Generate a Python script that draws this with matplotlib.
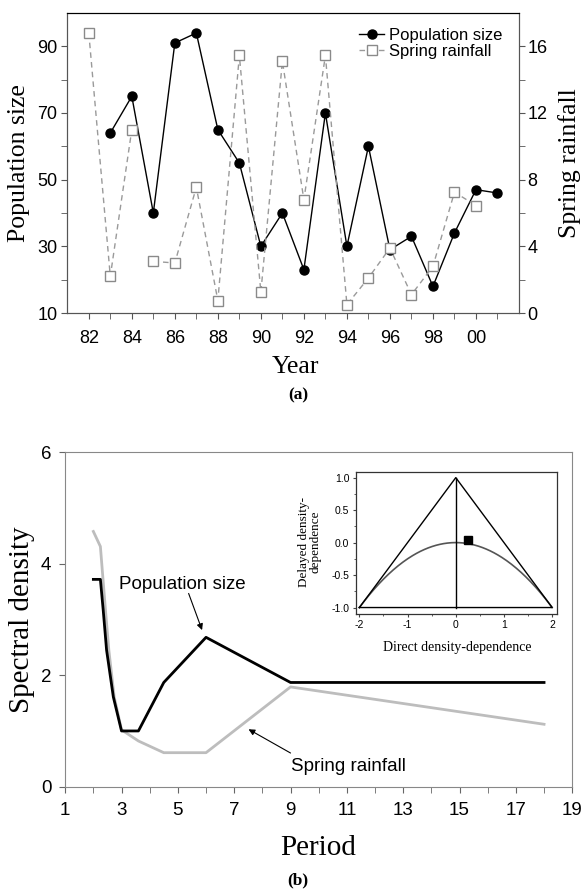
import numpy as np
import matplotlib
matplotlib.use("Agg")
import matplotlib.pyplot as plt
import matplotlib.ticker as ticker

# Panel (a) data
pop_years = [83, 84, 85, 86, 87, 88, 89, 90, 91, 92, 93, 94, 95, 96, 97, 98, 99, 100, 101]
pop_size = [64, 75, 40, 91, 94, 65, 55, 30, 40, 23, 70, 30, 60, 29, 33, 18, 34, 47, 46]
rain_years = [82, 83, 84, 85, 86, 87, 88, 89, 90, 91, 92, 93, 94, 95, 96, 97, 98, 99, 100]
rain = [16.8, 2.2, 11.0, 3.1, 3.0, 7.55, 0.75, 15.45, 1.25, 15.1, 6.8, 15.45, 0.5,
        2.1, 3.9, 1.1, 2.8, 7.25, 6.45]
rain_break = 3  # no dashed link between 84 and 85
year_ticks = [82, 84, 86, 88, 90, 92, 94, 96, 98, 100]
year_labels = ["82", "84", "86", "88", "90", "92", "94", "96", "98", "00"]

# Panel (b) data
period_pop = [2.0, 2.25, 2.35, 2.47, 2.71, 3.0, 3.6, 4.5, 6.0, 9.0, 18.0]
spec_pop = [3.72, 3.72, 3.17, 2.45, 1.61, 1.0, 1.0, 1.87, 2.68, 1.87, 1.87]
period_rain = [2.0, 2.25, 2.43, 2.55, 2.74, 3.0, 3.6, 4.5, 6.0, 9.0, 18.0]
spec_rain = [4.58, 4.31, 3.17, 2.45, 1.61, 1.02, 0.82, 0.61, 0.61, 1.79, 1.12]

# Inset data
tri_x = [-2, 0, 2, -2]
tri_y = [-1, 1, -1, -1]
est_direct = [0.25]
est_delayed = [0.035]

SERIF = "Liberation Serif"
SANS = "Liberation Sans"
plt.rcParams["font.family"] = SANS
plt.rcParams["axes.unicode_minus"] = False

fig = plt.figure(figsize=(5.83, 8.89), dpi=100)

### Panel (a)
ax1 = fig.add_axes([0.1154, 0.6479, 0.7748, 0.3375])
ax2 = ax1.twinx()

ax1.plot(pop_years, pop_size, color="black", lw=1.0, marker="o", ms=6.5,
         label="Population size", zorder=3)
ax2.plot(rain_years[:rain_break], rain[:rain_break], color="#9a9a9a", lw=1.0,
         ls=(0, (4, 3)), marker="s", ms=7, mfc="white", mec="#8a8a8a", mew=1.0,
         label="Spring rainfall")
ax2.plot(rain_years[rain_break:], rain[rain_break:], color="#9a9a9a", lw=1.0,
         ls=(0, (4, 3)), marker="s", ms=7, mfc="white", mec="#8a8a8a", mew=1.0)

ax1.set_xlim(81, 102)
ax1.set_ylim(10, 100)
ax2.set_ylim(0, 18)
ax1.set_xticks(year_ticks)
ax1.set_xticklabels(year_labels)
ax1.xaxis.set_minor_locator(ticker.FixedLocator(range(83, 102, 2)))
ax1.set_yticks([10, 30, 50, 70, 90])
ax1.yaxis.set_minor_locator(ticker.FixedLocator(range(20, 100, 20)))
ax2.set_yticks([0, 4, 8, 12, 16])
ax2.yaxis.set_minor_locator(ticker.FixedLocator([2, 6, 10, 14]))

for a in (ax1, ax2):
    for s in a.spines.values():
        s.set_color("#555555")
    a.spines["top"].set_color("black")
    a.tick_params(which="both", direction="out", length=4, color="#555555",
                  labelsize=13)
ax1.tick_params(axis="x", pad=8)
ax1.tick_params(axis="y", pad=3)
ax2.tick_params(axis="y", pad=2)

h1, l1 = ax1.get_legend_handles_labels()
h2, l2 = ax2.get_legend_handles_labels()
ax2.legend(h1 + h2, l1 + l2, loc="upper right", frameon=False, fontsize=12,
           handlelength=1.5, handletextpad=0.3, labelspacing=0.1,
           borderaxespad=0.3, bbox_to_anchor=(0.99, 0.99))

fig.text(0.0319, 0.8166, "Population size", rotation=90, ha="center",
         va="center", fontsize=18.5, family=SERIF)
fig.text(0.977, 0.8166, "Spring rainfall", rotation=90, ha="center",
         va="center", fontsize=18.5, family=SERIF)
fig.text(0.506, 0.5875, "Year", ha="center", va="center", fontsize=18.5,
         family=SERIF)
fig.text(0.511, 0.5557, "(a)", ha="center", va="center", fontsize=12.5,
         family=SERIF, weight="bold")

### Panel (b)
axb = fig.add_axes([0.1118, 0.1151, 0.8697, 0.3761])
axb.plot(period_rain, spec_rain, color="#bdbdbd", lw=2.0)
axb.plot(period_pop, spec_pop, color="black", lw=2.0)
axb.set_xlim(1, 19)
axb.set_ylim(0, 6)
axb.set_xticks(range(1, 20, 2))
axb.xaxis.set_minor_locator(ticker.FixedLocator(range(2, 19, 2)))
axb.set_yticks([0, 2, 4, 6])
for s in axb.spines.values():
    s.set_color("#888888")
axb.tick_params(which="both", direction="out", length=4, color="#666666",
                labelsize=13.5)
axb.tick_params(axis="x", pad=7)
axb.tick_params(axis="y", pad=6)

axb.annotate("Population size", xy=(5.86, 2.81), xytext=(2.91, 3.62),
             fontsize=13.5, va="center", ha="left",
             arrowprops=dict(arrowstyle="-|>", color="black", lw=0.8,
                             mutation_scale=9, shrinkA=0, shrinkB=0,
                             patchA=None, relpos=(0.55, 0.0)))
axb.annotate("Spring rainfall", xy=(7.51, 1.03), xytext=(9.0, 0.36),
             fontsize=13.5, va="center", ha="left",
             arrowprops=dict(arrowstyle="-|>", color="black", lw=0.8,
                             mutation_scale=9, shrinkA=0, shrinkB=0,
                             patchA=None, relpos=(0.0, 1.3)))

fig.text(0.0377, 0.3031, "Spectral density", rotation=90, ha="center",
         va="center", fontsize=21, family=SERIF)
fig.text(0.545, 0.0458, "Period", ha="center", va="center", fontsize=21,
         family=SERIF)
fig.text(0.511, 0.0101, "(b)", ha="center", va="center", fontsize=12.5,
         family=SERIF, weight="bold")

### Inset
axi = fig.add_axes([0.6098, 0.3093, 0.3456, 0.16])
xp = np.linspace(-2, 2, 200)
axi.plot(xp, -xp ** 2 / 4, color="#555555", lw=1.2)
axi.plot(tri_x, tri_y, color="black", lw=1.0)
axi.plot([0, 0], [-1, 1], color="black", lw=1.0)
axi.plot(est_direct, est_delayed, ls="none", marker="s", ms=5.5, color="black")
axi.set_xlim(-2.08, 2.1)
axi.set_ylim(-1.1, 1.09)
axi.set_xticks([-2, -1, 0, 1, 2])
axi.xaxis.set_minor_locator(ticker.MultipleLocator(0.5))
axi.set_yticks([-1.0, -0.5, 0.0, 0.5, 1.0])
axi.yaxis.set_major_formatter(ticker.FormatStrFormatter("%.1f"))
axi.yaxis.set_minor_locator(ticker.MultipleLocator(0.25))
for s in axi.spines.values():
    s.set_color("#333333")
    s.set_linewidth(0.9)
axi.tick_params(which="both", direction="out", length=2.5, color="#444444",
                labelsize=7.5, pad=2)
axi.tick_params(which="minor", length=1.5)

fig.text(0.784, 0.2714, "Direct density-dependence", ha="center", va="center",
         fontsize=10, family=SERIF)
fig.text(0.5317, 0.3907, "Delayed density-\ndependence", rotation=90,
         ha="center", va="center", multialignment="center", fontsize=9.5,
         family=SERIF, linespacing=1.0)

fig.savefig("out.png", dpi=100)
